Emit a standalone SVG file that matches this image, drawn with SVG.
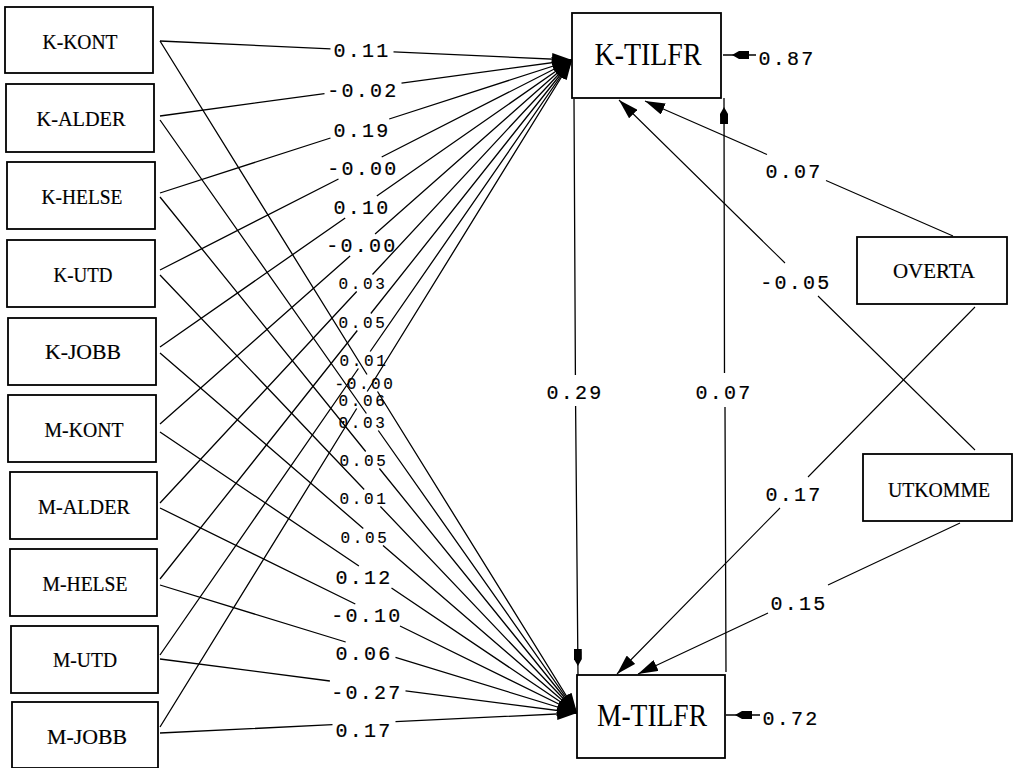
<svg xmlns="http://www.w3.org/2000/svg" width="1017" height="768" viewBox="0 0 1017 768">
<style>
.box{fill:#fff;stroke:#000;stroke-width:1.8}
.bt{font-family:"Liberation Serif","Times New Roman",serif;font-size:22px;fill:#000;text-anchor:middle;stroke:#000;stroke-width:0.2}
.big{font-family:"Liberation Serif","Times New Roman",serif;font-size:32px;fill:#000;text-anchor:middle}
.ln{fill:none;stroke:#000;stroke-width:1.3}
.lt{fill:none;stroke:#000;stroke-width:1.1}
.lab{font-family:"Liberation Mono","Courier New",monospace;font-size:20px;letter-spacing:2.25px;fill:#000;text-anchor:middle;stroke:#000;stroke-width:0.2}
.sm{font-family:"Liberation Mono","Courier New",monospace;font-size:16px;letter-spacing:2.6px;fill:#000;text-anchor:middle;stroke:#000;stroke-width:0.15}
</style>
<defs>
<marker id="ah" markerUnits="userSpaceOnUse" viewBox="0 0 20 12" markerWidth="20" markerHeight="12" refX="20" refY="6" orient="auto"><path d="M0,0 L20,6 L0,12 z" fill="#000"/></marker>
<marker id="an" markerUnits="userSpaceOnUse" viewBox="0 0 26 8" markerWidth="26" markerHeight="8" refX="26" refY="4" orient="auto"><path d="M0,0 L10,0 L17,4 L10,8 L0,8 z" fill="#000"/></marker>
</defs>
<rect x="0" y="0" width="1017" height="768" fill="#fff"/>

<g id="connectors">
<path class="ln" marker-end="url(#ah)" d="M160,41 L330.5,48.9 M393.5,51.8 L572,60"/>
<path class="ln" marker-end="url(#ah)" d="M160,116 L324.5,93.6 M401.5,83.2 L572,60"/>
<path class="ln" marker-end="url(#ah)" d="M160,193 L330.5,138 M389.2,119 L572,60"/>
<path class="ln" marker-end="url(#ah)" d="M160,270 L338.5,179 M381.7,157 L572,60"/>
<path class="ln" marker-end="url(#ah)" d="M160,347 L345.2,218 M376.8,196 L572,60"/>
<path class="ln" marker-end="url(#ah)" d="M160,424 L350.1,256 M375.1,234 L572,60"/>
<path class="ln" marker-end="url(#ah)" d="M160,503 L356.7,291.5 M372.5,274.5 L572,60"/>
<path class="ln" marker-end="url(#ah)" d="M160,579 L357.3,330.5 M370.8,313.5 L572,60"/>
<path class="ln" marker-end="url(#ah)" d="M160,655 L358.4,368.5 M370.2,351.5 L572,60"/>
<path class="ln" marker-end="url(#ah)" d="M160,727 L356.7,408.5 M367.2,391.5 L572,60"/>

<path class="ln" marker-end="url(#ah)" d="M160,41 L367,374.5 M377.5,391.5 L577,713"/>
<path class="ln" marker-end="url(#ah)" d="M160,120 L366.4,413.5 M378.3,430.5 L577,713"/>
<path class="ln" marker-end="url(#ah)" d="M160,197 L365.7,451.5 M379.4,468.5 L577,713"/>
<path class="ln" marker-end="url(#ah)" d="M160,275 L364.2,489.5 M380.4,506.5 L577,713"/>
<path class="ln" marker-end="url(#ah)" d="M160,353 L363.3,528.5 M383,545.5 L577,713"/>
<path class="ln" marker-end="url(#ah)" d="M160,432 L358.9,566 M391.5,588 L577,713"/>
<path class="ln" marker-end="url(#ah)" d="M160,508 L355.3,604 M400,626 L577,713"/>
<path class="ln" marker-end="url(#ah)" d="M160,585 L345.7,642 M395.5,657.3 L577,713"/>
<path class="ln" marker-end="url(#ah)" d="M160,659 L329.9,681 M405.5,690.8 L577,713"/>
<path class="ln" marker-end="url(#ah)" d="M160,733 L332.5,724.7 M395.5,721.7 L577,713"/>

<path class="ln" marker-end="url(#an)" d="M574,99 L575.4,375 M575.6,406 L578,675"/>
<path class="ln" marker-end="url(#an)" d="M726,672 L725,407 M724.5,373 L724,98"/>
<path class="ln" marker-end="url(#an)" d="M756,55 L723,55"/>
<path class="ln" marker-end="url(#an)" d="M760,715 L726,715"/>

<path class="lt" marker-end="url(#ah)" d="M953,236 L826,180.5 M767,154.5 L645,101"/>
<path class="lt" marker-end="url(#ah)" d="M975,450 L818,296 M785,263 L619,100"/>
<path class="lt" marker-end="url(#ah)" d="M975,307 L808,477 M780,508 L617,674"/>
<path class="lt" marker-end="url(#ah)" d="M960,523 L828,585 M768,613 L638,674"/>
</g>

<g id="connector-labels">
<text class="lab" x="362" y="57">0.11</text>
<text class="lab" x="363" y="97">-0.02</text>
<text class="lab" x="362" y="137">0.19</text>
<text class="lab" x="363" y="175">-0.00</text>
<text class="lab" x="362" y="214">0.10</text>
<text class="lab" x="362" y="252">-0.00</text>
<text class="sm" x="363" y="288.5">0.03</text>
<text class="sm" x="363" y="327.5">0.05</text>
<text class="sm" x="364" y="365.5">0.01</text>
<text class="sm" x="363" y="405.5">0.06</text>
<text class="sm" x="365" y="388.5">-0.00</text>
<text class="sm" x="363" y="427.5">0.03</text>
<text class="sm" x="364" y="465.5">0.05</text>
<text class="sm" x="364" y="503.5">0.01</text>
<text class="sm" x="365" y="542.5">0.05</text>
<text class="lab" x="364" y="584">0.12</text>
<text class="lab" x="367" y="622">-0.10</text>
<text class="lab" x="364" y="660">0.06</text>
<text class="lab" x="367" y="699">-0.27</text>
<text class="lab" x="364" y="737">0.17</text>
<text class="lab" x="575" y="399">0.29</text>
<text class="lab" x="724" y="399">0.07</text>
<text class="lab" x="787" y="65">0.87</text>
<text class="lab" x="791" y="725">0.72</text>
<text class="lab" x="794" y="178">0.07</text>
<text class="lab" x="796" y="289">-0.05</text>
<text class="lab" x="794" y="501">0.17</text>
<text class="lab" x="799" y="610">0.15</text>
</g>

<g id="K-KONT"><rect class="box" x="5" y="7" width="148" height="66"/><text class="bt" x="80" y="49" textLength="75" lengthAdjust="spacingAndGlyphs">K-KONT</text></g>
<g id="K-ALDER"><rect class="box" x="6" y="84" width="148" height="68"/><text class="bt" x="81" y="126" textLength="89" lengthAdjust="spacingAndGlyphs">K-ALDER</text></g>
<g id="K-HELSE"><rect class="box" x="7" y="162" width="148" height="67"/><text class="bt" x="82" y="204" textLength="81" lengthAdjust="spacingAndGlyphs">K-HELSE</text></g>
<g id="K-UTD"><rect class="box" x="7" y="240" width="148" height="67"/><text class="bt" x="83" y="282" textLength="59" lengthAdjust="spacingAndGlyphs">K-UTD</text></g>
<g id="K-JOBB"><rect class="box" x="8" y="318" width="148" height="67"/><text class="bt" x="83" y="359" textLength="76" lengthAdjust="spacingAndGlyphs">K-JOBB</text></g>
<g id="M-KONT"><rect class="box" x="8" y="395" width="148" height="67"/><text class="bt" x="84" y="437" textLength="79" lengthAdjust="spacingAndGlyphs">M-KONT</text></g>
<g id="M-ALDER"><rect class="box" x="10" y="472" width="147" height="67"/><text class="bt" x="84" y="514" textLength="92" lengthAdjust="spacingAndGlyphs">M-ALDER</text></g>
<g id="M-HELSE"><rect class="box" x="10" y="549" width="147" height="67"/><text class="bt" x="85" y="591" textLength="85" lengthAdjust="spacingAndGlyphs">M-HELSE</text></g>
<g id="M-UTD"><rect class="box" x="11" y="626" width="147" height="67"/><text class="bt" x="85" y="667" textLength="64" lengthAdjust="spacingAndGlyphs">M-UTD</text></g>
<g id="M-JOBB"><rect class="box" x="12" y="702" width="146" height="66"/><text class="bt" x="87" y="744" textLength="80" lengthAdjust="spacingAndGlyphs">M-JOBB</text></g>

<g id="K-TILFR"><rect class="box" x="572" y="13" width="149" height="85"/><text class="big" x="648" y="65" textLength="107" lengthAdjust="spacingAndGlyphs">K-TILFR</text></g>
<g id="M-TILFR"><rect class="box" x="577" y="675" width="148" height="83"/><text class="big" x="652" y="726" textLength="110" lengthAdjust="spacingAndGlyphs">M-TILFR</text></g>
<g id="OVERTA"><rect class="box" x="857" y="237" width="150" height="67"/><text class="bt" x="934" y="278" textLength="82" lengthAdjust="spacingAndGlyphs">OVERTA</text></g>
<g id="UTKOMME"><rect class="box" x="863" y="454" width="149" height="67"/><text class="bt" x="939" y="497" textLength="102" lengthAdjust="spacingAndGlyphs">UTKOMME</text></g>
</svg>
